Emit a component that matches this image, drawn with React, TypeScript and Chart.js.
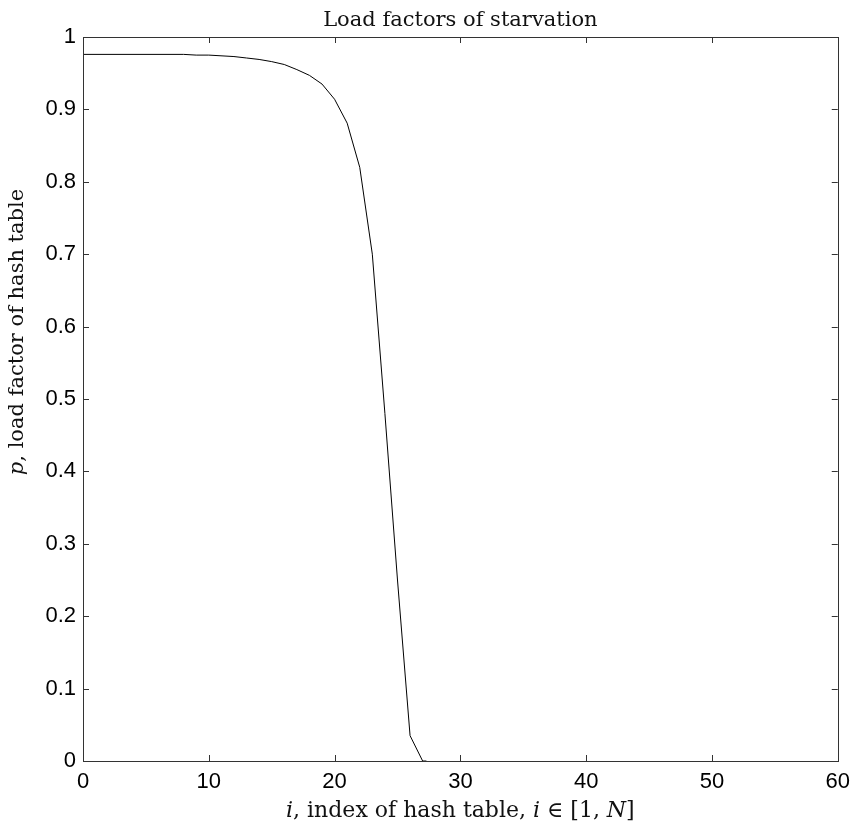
import React, { useEffect, useRef } from "react";
import { Chart, registerables } from "chart.js";

Chart.register(...registerables);

const xValues = [0, 8, 9, 10, 12, 13, 14, 15, 16, 17, 18, 19, 20, 21, 22, 23, 24, 25, 26, 27, 27.3];
const yValues = [0.976, 0.976, 0.975, 0.975, 0.973, 0.971, 0.969, 0.966, 0.962, 0.955, 0.947, 0.935, 0.914, 0.881, 0.82, 0.7, 0.48, 0.25, 0.035, 0.0, 0.0];
const xTicks = [0, 10, 20, 30, 40, 50, 60];
const yTicks = [0, 0.1, 0.2, 0.3, 0.4, 0.5, 0.6, 0.7, 0.8, 0.9, 1];
const titleText = "Load factors of starvation";
const xTitleParts: [string, boolean][] = [["i", true], [", index of hash table, ", false], ["i", true], [" \u2208 [1, ", false], ["N", true], ["]", false]];
const yTitleParts: [string, boolean][] = [["p", true], [", load factor of hash table", false]];

const SERIF = "'DejaVu Serif', 'Liberation Serif', serif";
const SANS = "'Liberation Sans', Arial, sans-serif";

function drawParts(ctx: CanvasRenderingContext2D, parts: [string, boolean][], size: number) {
  let total = 0;
  const widths = parts.map(([t, it]) => {
    ctx.font = `${it ? "italic " : ""}${size}px ${SERIF}`;
    const w = ctx.measureText(t).width;
    total += w;
    return w;
  });
  let x = -total / 2;
  parts.forEach(([t, it], i) => {
    ctx.font = `${it ? "italic " : ""}${size}px ${SERIF}`;
    ctx.fillText(t, x, 0);
    x += widths[i];
  });
}

const framePlugin = {
  id: "frame",
  afterDraw(chart: any) {
    const ctx = chart.ctx as CanvasRenderingContext2D;
    const { left, right, top, bottom } = chart.chartArea;
    const xs = chart.scales.x;
    const ys = chart.scales.y;
    ctx.save();
    ctx.strokeStyle = "#333";
    ctx.lineWidth = 1;
    ctx.strokeRect(Math.round(left) + 0.5, Math.round(top) + 0.5, Math.round(right - left), Math.round(bottom - top));
    const tl = 6;
    ctx.beginPath();
    xTicks.forEach((v) => {
      const px = Math.round(xs.getPixelForValue(v)) + 0.5;
      ctx.moveTo(px, bottom);
      ctx.lineTo(px, bottom - tl);
      ctx.moveTo(px, top);
      ctx.lineTo(px, top + tl);
    });
    yTicks.forEach((v) => {
      const py = Math.round(ys.getPixelForValue(v)) + 0.5;
      ctx.moveTo(left, py);
      ctx.lineTo(left + tl, py);
      ctx.moveTo(right, py);
      ctx.lineTo(right - tl, py);
    });
    ctx.stroke();

    ctx.fillStyle = "#111";
    ctx.textBaseline = "alphabetic";
    ctx.textAlign = "left";
    const cx = (left + right) / 2;
    ctx.save();
    ctx.translate(cx, 26);
    drawParts(ctx, [[titleText, false]], 21);
    ctx.restore();

    ctx.save();
    ctx.translate(cx, 817);
    drawParts(ctx, xTitleParts, 22);
    ctx.restore();

    ctx.save();
    ctx.translate(23, 332);
    ctx.rotate(-Math.PI / 2);
    drawParts(ctx, yTitleParts, 21);
    ctx.restore();
    ctx.restore();
  },
};

export default function App() {
  const ref = useRef<HTMLCanvasElement>(null);
  useEffect(() => {
    document.body.style.margin = "0";
    const chart = new Chart(ref.current!, {
      type: "line",
      data: {
        datasets: [
          {
            data: xValues.map((x, i) => ({ x, y: yValues[i] })),
            borderColor: "#000",
            borderWidth: 1,
            pointRadius: 0,
            tension: 0,
            fill: false,
          },
        ],
      },
      options: {
        animation: false,
        responsive: true,
        maintainAspectRatio: false,
        layout: { padding: { top: 37, right: 18, left: 0, bottom: 0 } },
        plugins: { legend: { display: false }, title: { display: false }, tooltip: { enabled: false } },
        scales: {
          x: {
            type: "linear",
            min: 0,
            max: 60,
            afterBuildTicks: (s: any) => { s.ticks = xTicks.map((v) => ({ value: v })); },
            afterFit: (s: any) => { s.height = 67; },
            ticks: { font: { family: SANS, size: 22 }, color: "#000", padding: 8, maxRotation: 0 },
            grid: { display: false, drawTicks: false },
            border: { display: false },
          },
          y: {
            type: "linear",
            min: 0,
            max: 1,
            afterBuildTicks: (s: any) => { s.ticks = yTicks.map((v) => ({ value: v })); },
            afterFit: (s: any) => { s.width = 83; },
            ticks: {
              font: { family: SANS, size: 22 },
              color: "#000",
              padding: 7,
              callback: (v: any) => (v === 0 ? "0" : v === 1 ? "1" : Number(v).toFixed(1)),
            },
            grid: { display: false, drawTicks: false },
            border: { display: false },
          },
        },
      },
      plugins: [framePlugin],
    });
    return () => chart.destroy();
  }, []);
  return (
    <div style={{ position: "relative", width: 858, height: 828 }}>
      <canvas ref={ref} />
    </div>
  );
}
